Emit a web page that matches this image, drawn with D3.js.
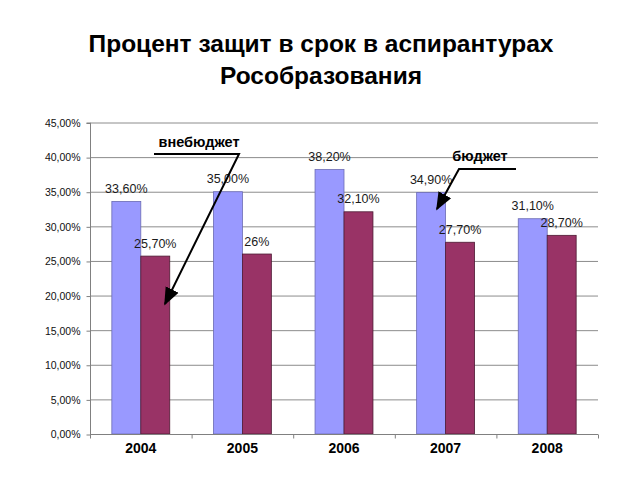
<!DOCTYPE html>
<html><head><meta charset="utf-8">
<script src="https://cdn.jsdelivr.net/npm/d3@7"></script>
<style>body{margin:0;background:#fff}svg{display:block}</style>
</head><body>
<svg id="c" width="640" height="480"></svg>
<script>
const years = ["2004","2005","2006","2007","2008"];
const vneBudget = [33.6, 35.0, 38.2, 34.9, 31.1];
const budget = [25.7, 26.0, 32.1, 27.7, 28.7];
const vneLabels = ["33,60%","35,00%","38,20%","34,90%","31,10%"];
const budgetLabels = ["25,70%","26%","32,10%","27,70%","28,70%"];
const yTicks = [0,5,10,15,20,25,30,35,40,45];
const titleLines = ["Процент защит в срок в аспирантурах","Рособразования"];

const svg = d3.select("#c");
const L = 90, R = 598, T = 122.5, B = 434;
const lf = "Liberation Sans, Arial, sans-serif";
const x = d3.scaleBand().domain(years).range([L, R]).paddingInner(0.43).paddingOuter(0.215);
const y = d3.scaleLinear().domain([0,45]).range([B, T]);

// title
svg.append("g").selectAll("text").data(titleLines).join("text")
  .attr("x", 321).attr("y", (d,i)=>52 + i*31.5)
  .attr("text-anchor","middle").attr("font-family",lf)
  .attr("font-weight","bold").attr("font-size", 24.5).attr("fill","#000").text(d=>d);

// gridlines
svg.append("g").selectAll("line").data(yTicks.filter(d=>d>0)).join("line")
  .attr("x1", L).attr("x2", R).attr("y1", d=>y(d)+0.5).attr("y2", d=>y(d)+0.5)
  .attr("stroke","#8c8c8c").attr("stroke-width",1);

// y axis
const yAxis = d3.axisLeft(y).tickValues(yTicks).tickSize(4).tickPadding(6)
  .tickFormat(d => d3.format(".2f")(d).replace(".", ",") + "%");
const ya = svg.append("g").attr("transform", `translate(${L+0.5},0.5)`).call(yAxis);
ya.select(".domain").attr("stroke","#808080").attr("d", `M-4,${T}H0V${B}`);
ya.selectAll(".tick line").attr("stroke","#808080");
ya.selectAll("text").attr("font-family",lf).attr("font-size",10.5).attr("fill","#111");

// bars
const bw = x.bandwidth()/2;
const g = svg.append("g");
g.selectAll(".b1").data(years).join("rect")
  .attr("x", d=>x(d)).attr("width", bw)
  .attr("y", (d,i)=>y(vneBudget[i])).attr("height",(d,i)=>B-y(vneBudget[i]))
  .attr("fill","#9999ff").attr("stroke","#6b6bb3").attr("stroke-width",0.8);
g.selectAll(".b2").data(years).join("rect")
  .attr("x", d=>x(d)+bw).attr("width", bw)
  .attr("y", (d,i)=>y(budget[i])).attr("height",(d,i)=>B-y(budget[i]))
  .attr("fill","#993366").attr("stroke","#4d1a33").attr("stroke-width",0.8);

// x axis
const xa = svg.append("g").attr("transform", `translate(0,${B+0.5})`);
xa.append("line").attr("x1",L).attr("x2",R).attr("stroke","#808080");
const bounds = d3.range(years.length+1).map(i => L + i*(R-L)/years.length);
xa.selectAll(".t").data(bounds).join("line").attr("x1",d=>d+0.5).attr("x2",d=>d+0.5).attr("y1",0).attr("y2",4).attr("stroke","#808080");
xa.selectAll("text").data(years).join("text")
  .attr("x", d=>x(d)+x.bandwidth()/2).attr("y", 18.5)
  .attr("text-anchor","middle").attr("font-family",lf)
  .attr("font-weight","bold").attr("font-size",14).attr("fill","#000").text(d=>d);

// value labels
g.selectAll(".l1").data(years).join("text")
  .attr("x", d=>x(d)+bw/2).attr("y",(d,i)=>y(vneBudget[i])-8.5)
  .attr("text-anchor","middle").attr("font-family",lf).attr("font-size",12.5).attr("fill","#1a1a1a")
  .text((d,i)=>vneLabels[i]);
g.selectAll(".l2").data(years).join("text")
  .attr("x", d=>x(d)+bw*1.5).attr("y",(d,i)=>y(budget[i])-8.5)
  .attr("text-anchor","middle").attr("font-family",lf).attr("font-size",12.5).attr("fill","#1a1a1a")
  .text((d,i)=>budgetLabels[i]);

// annotations
svg.append("defs").append("marker").attr("id","ah").attr("viewBox","0 0 10 10")
  .attr("refX",9).attr("refY",5).attr("markerWidth",9).attr("markerHeight",9).attr("orient","auto")
  .append("path").attr("d","M0,1L10,5L0,9Z").attr("fill","#000");
svg.append("text").attr("x",199).attr("y",146.5).attr("text-anchor","middle")
  .attr("font-family",lf).attr("font-weight","bold").attr("font-size",14.5).text("внебюджет");
svg.append("polyline").attr("points","154,154 239,154 165,304").attr("fill","none")
  .attr("stroke","#000").attr("stroke-width",2).attr("marker-end","url(#ah)");
svg.append("text").attr("x",480).attr("y",160.5).attr("text-anchor","middle")
  .attr("font-family",lf).attr("font-weight","bold").attr("font-size",14.5).text("бюджет");
svg.append("polyline").attr("points","516,169 459,169 437,209").attr("fill","none")
  .attr("stroke","#000").attr("stroke-width",2).attr("marker-end","url(#ah)");
</script>
</body></html>
